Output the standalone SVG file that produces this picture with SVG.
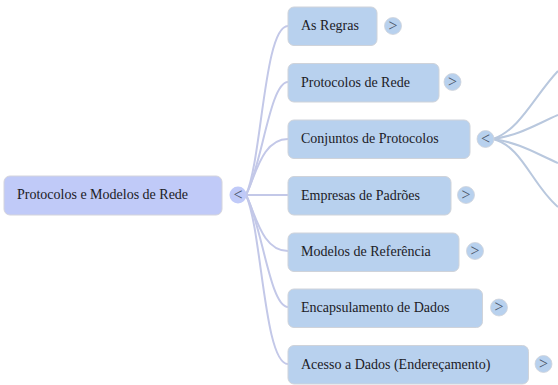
<svg xmlns="http://www.w3.org/2000/svg" width="558" height="385" viewBox="0 0 558 385">
<style>
.r{fill:#c0caf8;stroke:#d4d4dc;stroke-width:1}
.n{fill:#b8d1ee;stroke:#cfd3da;stroke-width:1}
.c1{fill:#c0caf8}
.c2{fill:#b8d1ee;stroke:#cfd3da;stroke-width:.8}
text{font-family:"Liberation Serif","Times New Roman",serif;font-size:14px;fill:#1c2026}
.g{font-size:16px;fill:#4a5568;text-anchor:middle}
.l{fill:none;stroke:#c3c8e8;stroke-width:2}
.m{fill:none;stroke:#b9c8de;stroke-width:2}
</style>
<g id="connectors">
<path class="l" d="M246 195C262 160 264 26 288 26"/>
<path class="l" d="M246 195C262 165 270 82 288 82"/>
<path class="l" d="M246 195C256 175 262 139 288 139"/>
<path class="l" d="M246 195H288"/>
<path class="l" d="M246 195C256 215 262 251 288 251"/>
<path class="l" d="M246 195C262 225 270 307 288 307"/>
<path class="l" d="M246 195C262 230 264 364 288 364"/>
<path class="m" d="M493 139C520 130 535 95 558 71"/>
<path class="m" d="M493 139C520 135 535 125 558 115"/>
<path class="m" d="M493 139C520 143 535 153 558 163"/>
<path class="m" d="M493 139C522 146 532 185 558 207"/>
</g>
<g id="root"><rect class="r" x="4" y="176" width="218" height="39" rx="6"/><text x="17" y="199">Protocolos e Modelos de Rede</text></g>
<g id="root-toggle"><circle class="c1" cx="238" cy="195" r="8.5"/><text class="g" x="238" y="199.500">&lt;</text></g>
<g id="n1"><rect class="n" x="288" y="7" width="89" height="38.5" rx="6"/><text x="301" y="30">As Regras</text></g>
<g id="t1"><circle class="c2" cx="393" cy="26" r="8.5"/><text class="g" x="393" y="30.500">&gt;</text></g>
<g id="n2"><rect class="n" x="288" y="63.500" width="151" height="38.5" rx="6"/><text x="301" y="86.500">Protocolos de Rede</text></g>
<g id="t2"><circle class="c2" cx="452.500" cy="82" r="8.5"/><text class="g" x="452.500" y="86.500">&gt;</text></g>
<g id="n3"><rect class="n" x="288" y="120" width="182" height="38.5" rx="6"/><text x="301" y="143">Conjuntos de Protocolos</text></g>
<g id="t3"><circle class="c2" cx="485.500" cy="139" r="8.5"/><text class="g" x="485.500" y="143.500">&lt;</text></g>
<g id="n4"><rect class="n" x="288" y="176.500" width="163" height="38.5" rx="6"/><text x="301" y="199.500">Empresas de Padrões</text></g>
<g id="t4"><circle class="c2" cx="466" cy="195" r="8.5"/><text class="g" x="466" y="199.500">&gt;</text></g>
<g id="n5"><rect class="n" x="288" y="233" width="171" height="38.5" rx="6"/><text x="301" y="255.500">Modelos de Referência</text></g>
<g id="t5"><circle class="c2" cx="475" cy="251" r="8.5"/><text class="g" x="475" y="255.500">&gt;</text></g>
<g id="n6"><rect class="n" x="288" y="289" width="194.500" height="38.5" rx="6"/><text x="301" y="312">Encapsulamento de Dados</text></g>
<g id="t6"><circle class="c2" cx="499" cy="307.500" r="8.5"/><text class="g" x="499" y="312">&gt;</text></g>
<g id="n7"><rect class="n" x="288" y="345.500" width="240.500" height="38.5" rx="6"/><text x="301" y="368.500">Acesso a Dados (Endereçamento)</text></g>
<g id="t7"><circle class="c2" cx="543.500" cy="364" r="8.5"/><text class="g" x="543.500" y="368.500">&gt;</text></g>
</svg>
